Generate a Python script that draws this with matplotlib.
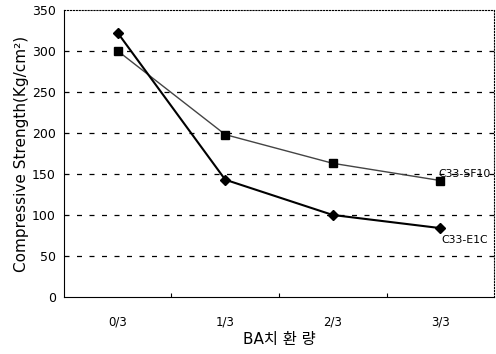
import matplotlib
matplotlib.use("Agg")
import matplotlib.pyplot as plt

plt.rcParams['font.family'] = ['DejaVu Sans', 'Noto Sans CJK KR']

categories = ["0/3", "1/3", "2/3", "3/3"]
sf10 = [300, 198, 163, 142]
e1c = [322, 143, 100, 84]
yticks = [0, 50, 100, 150, 200, 250, 300, 350]

fig = plt.figure(figsize=(4.96, 3.54), dpi=100)
ax = fig.add_axes([0.129, 0.161, 0.867, 0.811])

x = [i + 0.5 for i in range(len(categories))]

# dashed grid lines
for y in yticks[1:-1]:
    ax.axhline(y, color='black', lw=0.9, ls=(0, (4, 6)), zorder=1)

ax.plot(x, sf10, color='#444444', lw=1.0, marker='s', ms=6,
        mfc='black', mec='black', zorder=3)
ax.plot(x, e1c, color='black', lw=1.5, marker='D', ms=5,
        mfc='black', mec='black', zorder=3)

ax.text(x[-1] - 0.02, sf10[-1] + 2, "C33-SF10", fontsize=7.8, va='bottom', ha='left',
        zorder=4)
ax.text(x[-1] + 0.01, e1c[-1] - 9, "C33-E1C", fontsize=7.8, va='top', ha='left')

ax.set_xlim(0, 4)
ax.set_ylim(0, 350)
ax.set_xticks([1, 2, 3])
ax.set_xticklabels([])
ax.tick_params(axis='x', direction='in', length=3)
for xi, lab in zip(x, categories):
    ax.text(xi, -22, lab, ha='center', va='top', fontsize=8.5)
ax.set_yticks(yticks)
ax.tick_params(axis='y', length=0, labelsize=9, pad=6)

ax.spines['top'].set_linestyle(':')
ax.spines['right'].set_linestyle(':')
ax.spines['top'].set_linewidth(0.8)
ax.spines['right'].set_linewidth(0.8)

ax.set_ylabel("Compressive Strength(Kg/cm²)", fontsize=11, labelpad=2)
ax.text(2, -43, "BA치 환 량", ha='center', va='top', fontsize=11)

fig.savefig("out.png", dpi=100)
